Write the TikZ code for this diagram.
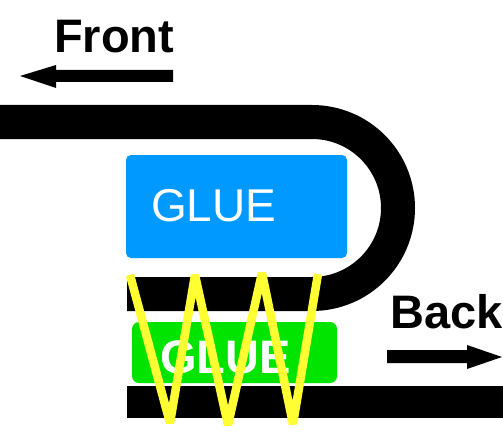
\documentclass[tikz,border=0pt]{standalone}
\usepackage{fontspec}
\setmainfont{Liberation Sans}
\definecolor{glueblue}{RGB}{0,153,255}
\definecolor{gluegreen}{RGB}{0,228,0}
\definecolor{zigyellow}{RGB}{255,255,51}
\begin{document}
\begin{tikzpicture}[x=1pt,y=1pt,
  band/.style={line width=34pt,black},
  lbl/.style={anchor=base west,inner sep=0pt,font=\fontsize{47}{50}\selectfont\bfseries},
  glue/.style={anchor=base west,inner sep=0pt,text=white},
  zig/.style={zigyellow,line width=8.5pt,line join=bevel}]
\useasboundingbox (0,0) rectangle (503,-441);
\fill[white] (0,0) rectangle (503,-441);
% folded band
\draw[band] (0,-122) -- (312,-122) arc[start angle=90,end angle=-90,radius=86] -- (127,-294);
% bottom strip
\fill[black] (127,-386) rectangle (503,-418);
% glue boxes
\fill[glueblue,rounded corners=5pt] (126,-155) rectangle (347,-258);
\fill[gluegreen,rounded corners=7pt] (132,-322) rectangle (337,-383);
\node[glue,font=\fontsize{46}{50}\selectfont] (g1) at (151,-221) {GLUE};
\node[glue,font=\fontsize{47}{50}\selectfont\bfseries] (g2) at (160,-373) {GLUE};
% labels and arrows
\node[lbl] (front) at (54,-53) {Front};
\fill[black] (173,-70) -- (56,-70) -- (56,-65) -- (20,-76) -- (56,-88) -- (56,-82) -- (173,-82) -- cycle;
\node[lbl] (back) at (390,-328) {Back};
\fill[black] (387,-350) -- (467,-350) -- (467,-345) -- (502,-357) -- (467,-369) -- (467,-363) -- (387,-363) -- cycle;
% zigzag
\draw[zig] (130,-275) -- (170,-423) -- (195,-275) -- (228,-425) -- (262,-273) -- (293,-424) -- (318,-274);
\end{tikzpicture}
\end{document}
